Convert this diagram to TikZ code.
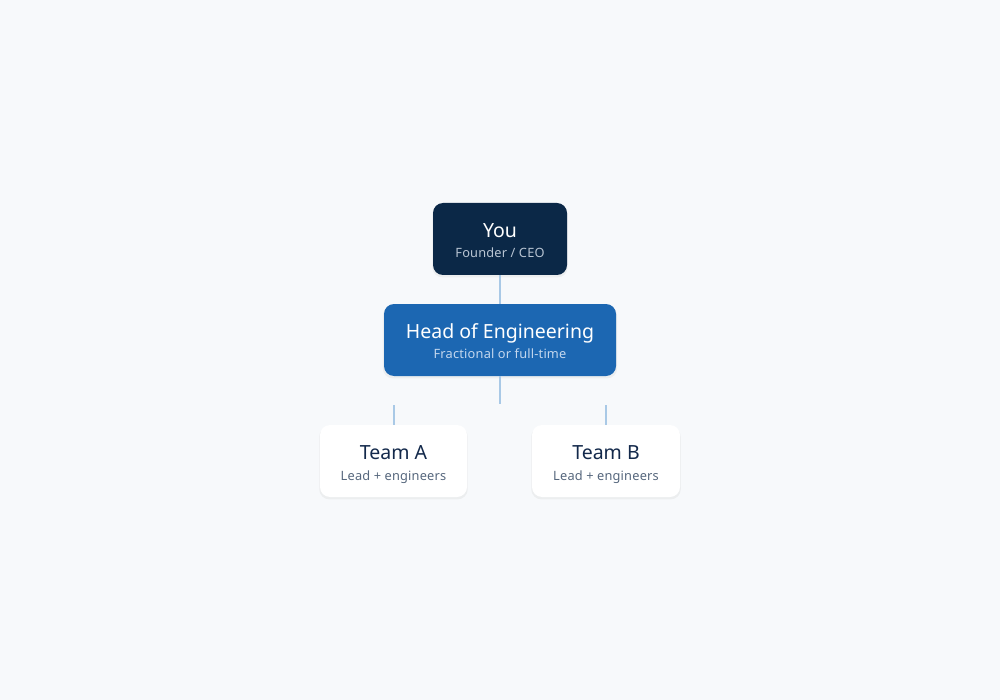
\documentclass[tikz,border=0pt]{standalone}
\usepackage{fontspec}
\setmainfont{Noto Sans}
\newfontfamily\subfont[LetterSpace=1.5]{Noto Sans}
\usetikzlibrary{shadows}
\definecolor{bg}{HTML}{F7F9FB}
\definecolor{navy}{HTML}{0B2847}
\definecolor{blue}{HTML}{1C67B2}
\definecolor{ttext}{HTML}{13294B}
\definecolor{tsub}{HTML}{56677D}
\definecolor{yousub}{HTML}{B9C5D3}
\definecolor{hoesub}{HTML}{C3D7EE}
\definecolor{linkc}{HTML}{A9C9E6}
\tikzset{
  box/.style={rounded corners=10pt, minimum height=72pt, inner sep=0pt,
    drop shadow={opacity=0.09, shadow xshift=0pt, shadow yshift=-2pt, shadow scale=1.01}},
  ttl/.style={anchor=base, inner sep=0pt, font=\fontsize{19.5}{22}\selectfont},
  sub/.style={anchor=base, inner sep=0pt, font=\subfont\fontsize{12.8}{15}\selectfont},
  link/.style={draw=linkc, line width=2pt}
}
\begin{document}
\begin{tikzpicture}[x=1pt,y=-1pt]
\fill[bg] (0,0) rectangle (1000,700);
\useasboundingbox (0,0) rectangle (1000,700);
\node[box, fill=navy, minimum width=134pt] (you) at (500,239) {};
\node[box, fill=blue, minimum width=232pt] (hoe) at (500,340) {};
\node[box, fill=white, minimum width=147pt] (ta) at (393.5,461) {};
\node[box, fill=white, minimum width=148pt] (tb) at (606,461) {};
\coordinate (hoeend) at (500,404);
\coordinate (ta0) at (394,405);
\coordinate (tb0) at (605.5,405);
\draw[link] (you.south) -- (hoe.north);
\draw[link] (hoe.south) -- (hoeend);
\draw[link] (ta0) -- (ta.north -| ta0);
\draw[link] (tb0) -- (tb.north -| tb0);
\node[ttl, text=white] (youT) at (500,238) {You};
\node[sub, text=yousub] (youS) at (500,258) {Founder / CEO};
\node[ttl, text=white] (hoeT) at (500,338) {Head of Engineering};
\node[sub, text=hoesub] (hoeS) at (500,358) {Fractional or full-time};
\node[ttl, text=ttext] (taT) at (393.5,459) {Team A};
\node[sub, text=tsub] (taS) at (393.5,480) {Lead + engineers};
\node[ttl, text=ttext] (tbT) at (606,459) {Team B};
\node[sub, text=tsub] (tbS) at (606,480) {Lead + engineers};
\end{tikzpicture}
\end{document}
